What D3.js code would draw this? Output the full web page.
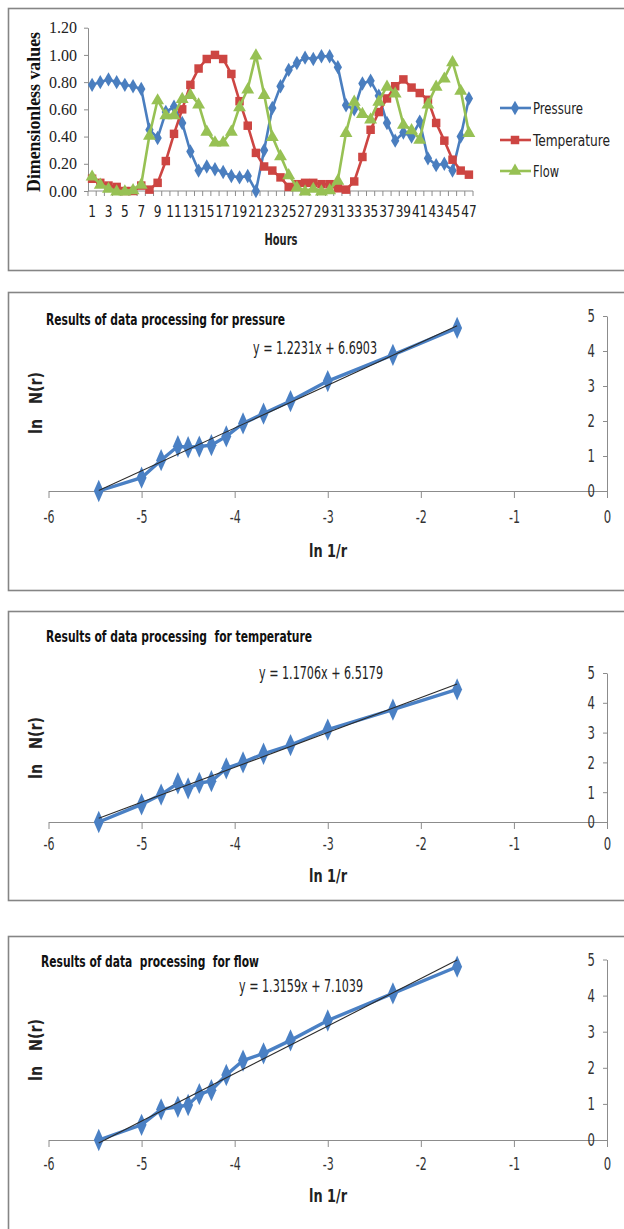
<!DOCTYPE html>
<html>
<head>
<meta charset="utf-8">
<script src="https://cdn.jsdelivr.net/npm/d3@7"></script>
<style>
  body { margin: 0; background: #fff; }
  svg { display: block; }
  .narrow { font-family: "Liberation Sans Narrow", "DejaVu Sans Condensed", sans-serif; }
</style>
</head>
<body>
<svg id="chart"></svg>
<script>
// ---- data: top chart (dimensionless values per hour) ----
const hours = [1, 2, 3, 4, 5, 6, 7, 8, 9, 10, 11, 12, 13, 14, 15, 16, 17, 18, 19, 20, 21, 22, 23, 24,
  25, 26, 27, 28, 29, 30, 31, 32, 33, 34, 35, 36, 37, 38, 39, 40, 41, 42, 43, 44, 45, 46, 47];
const pressure = [0.78, 0.80, 0.82, 0.80, 0.78, 0.77, 0.75, 0.45, 0.39, 0.58, 0.62, 0.50, 0.29, 0.15, 0.18, 0.16,
  0.14, 0.11, 0.10, 0.11, 0.00, 0.30, 0.61, 0.77, 0.89, 0.94, 0.98, 0.97, 0.99, 0.99, 0.91, 0.63,
  0.60, 0.79, 0.81, 0.70, 0.50, 0.37, 0.43, 0.40, 0.51, 0.24, 0.19, 0.20, 0.15, 0.40, 0.68];
const temperature = [0.09, 0.06, 0.04, 0.03, 0.00, 0.00, 0.04, 0.01, 0.06, 0.22, 0.42, 0.60, 0.78, 0.90, 0.97, 1.00,
  0.97, 0.86, 0.66, 0.48, 0.28, 0.18, 0.15, 0.10, 0.03, 0.05, 0.06, 0.06, 0.05, 0.05, 0.02, 0.01,
  0.07, 0.25, 0.45, 0.58, 0.68, 0.77, 0.82, 0.76, 0.72, 0.67, 0.50, 0.37, 0.23, 0.15, 0.12];
const flow = [0.11, 0.05, 0.02, 0.00, 0.00, 0.01, 0.05, 0.41, 0.67, 0.56, 0.56, 0.68, 0.71, 0.64, 0.44, 0.36,
  0.36, 0.44, 0.62, 0.75, 1.00, 0.71, 0.40, 0.26, 0.12, 0.03, 0.00, 0.02, 0.00, 0.01, 0.08, 0.43,
  0.66, 0.57, 0.53, 0.66, 0.77, 0.72, 0.49, 0.45, 0.38, 0.64, 0.77, 0.83, 0.95, 0.74, 0.43];
const seriesNames = ["Pressure", "Temperature", "Flow"];
const yTicksTop = [0, 0.2, 0.4, 0.6, 0.8, 1.0, 1.2];

// ---- data: fractal processing panels ----
const lnInvR = [-5.46, -5.00, -4.79, -4.61, -4.50, -4.38, -4.25, -4.09, -3.91, -3.69, -3.40, -3.00, -2.30, -1.61];
const lnNPressure = [0.00, 0.38, 0.88, 1.28, 1.25, 1.27, 1.31, 1.56, 1.93, 2.21, 2.57, 3.14, 3.89, 4.66];
const lnNTemperature = [0.00, 0.59, 0.92, 1.30, 1.13, 1.31, 1.37, 1.80, 2.00, 2.29, 2.58, 3.10, 3.77, 4.45];
const lnNFlow = [0.00, 0.42, 0.85, 0.92, 0.97, 1.27, 1.38, 1.80, 2.20, 2.40, 2.76, 3.31, 4.06, 4.80];
const fitPressure = [1.2231, 6.6903];
const fitTemperature = [1.1706, 6.5179];
const fitFlow = [1.3159, 7.1039];
const xTicksLn = [-6, -5, -4, -3, -2, -1, 0];
const yTicksLn = [0, 1, 2, 3, 4, 5];

const width = 624;
const height = 1229;
const colors = ["#4a7ebf", "#cd4542", "#97c154"];
const axisColor = "#8c8c8c";
const svg = d3.select("#chart").attr("width", width).attr("height", height);

// squeeze text to a given width (the source font is a narrow one)
const fit = (sel, w) => sel.attr("textLength", w).attr("lengthAdjust", "spacingAndGlyphs");

// panel frames (right side runs off the page)
const frames = [[8.5, 8.5, 262], [8.5, 292.5, 298], [8.5, 611.5, 289], [8.5, 936.5, 300]];
frames.forEach((f) => {
  svg.append("rect")
    .attr("x", f[0]).attr("y", f[1])
    .attr("width", 640).attr("height", f[2])
    .attr("fill", "none")
    .attr("stroke", "#858585")
    .attr("stroke-width", 1.6);
});

// ---------------- top chart ----------------
const drawTop = () => {
  const g = svg.append("g");
  const x = d3.scaleBand().domain(hours).range([88, 473]);
  const y = d3.scaleLinear().domain([0, 1.2]).range([191, 27.7]);
  const cx = (d) => x(d) + x.bandwidth() / 2;

  const yAxis = d3.axisLeft(y).tickValues(yTicksTop).tickFormat(d3.format(".2f"))
    .tickSize(4).tickSizeOuter(0).tickPadding(7);
  const ya = g.append("g").attr("transform", "translate(88,0)").call(yAxis);
  ya.selectAll("text").attr("font-family", "Liberation Serif, Times New Roman, serif")
    .attr("font-size", 16).attr("fill", "#222");
  ya.selectAll("line,path").attr("stroke", axisColor);

  // x axis: line, ticks between categories, odd labels
  g.append("line").attr("x1", 88).attr("x2", 473).attr("y1", 191).attr("y2", 191)
    .attr("stroke", axisColor);
  g.selectAll(".xt").data(hours.concat(["end"])).enter().append("line")
    .attr("x1", (d) => (d === "end" ? 473 : x(d)))
    .attr("x2", (d) => (d === "end" ? 473 : x(d)))
    .attr("y1", 191).attr("y2", 196)
    .attr("stroke", axisColor);
  g.selectAll(".xl").data(hours.filter((h) => h % 2 === 1)).enter().append("text")
    .attr("class", "narrow")
    .attr("x", cx).attr("y", 217)
    .attr("text-anchor", "middle")
    .attr("font-size", 16).attr("fill", "#222")
    .attr("textLength", (d) => String(d).length * 7.7)
    .attr("lengthAdjust", "spacingAndGlyphs")
    .text((d) => d);

  g.append("text").attr("x", 281).attr("y", 245)
    .attr("text-anchor", "middle").attr("class", "narrow")
    .attr("font-weight", "bold").attr("font-size", 15.5).attr("fill", "#222")
    .call(fit, 33)
    .text("Hours");
  g.append("text").attr("transform", "translate(40,112) rotate(-90)")
    .attr("text-anchor", "middle")
    .attr("font-family", "Liberation Serif, Times New Roman, serif")
    .attr("font-weight", "bold").attr("font-size", 18).attr("fill", "#111")
    .call(fit, 160)
    .text("Dimensionless values");

  const allSeries = [pressure, temperature, flow];
  const symbols = [d3.symbolDiamond, d3.symbolSquare, d3.symbolTriangle];
  const sizes = [60, 72, 72];
  const line = d3.line().x((d, i) => cx(hours[i])).y((d) => y(d));

  allSeries.forEach((vals, s) => {
    g.append("path").datum(vals).attr("d", line)
      .attr("fill", "none").attr("stroke", colors[s]).attr("stroke-width", 2.6);
    g.selectAll(".m" + s).data(vals).enter().append("path")
      .attr("transform", (d, i) => "translate(" + cx(hours[i]) + "," + (y(d) + (s === 2 ? 0.8 : 0)) + ")")
      .attr("d", d3.symbol(symbols[s], sizes[s]))
      .attr("fill", colors[s]);
  });

  // legend
  const legendY = [108, 140, 171];
  const legendW = [50, 77, 26];
  seriesNames.forEach((name, s) => {
    g.append("line").attr("x1", 500).attr("x2", 531)
      .attr("y1", legendY[s]).attr("y2", legendY[s])
      .attr("stroke", colors[s]).attr("stroke-width", 2.6);
    g.append("path").attr("transform", "translate(515," + legendY[s] + ")")
      .attr("d", d3.symbol(symbols[s], sizes[s])).attr("fill", colors[s]);
    g.append("text").attr("class", "narrow").attr("x", 533).attr("y", legendY[s] + 5.5)
      .attr("font-size", 16).attr("fill", "#222")
      .call(fit, legendW[s])
      .text(name);
  });
};

// ---------------- fractal panels ----------------
const drawFractal = (cfg) => {
  const g = svg.append("g");
  const x = d3.scaleLinear().domain([-6, 0]).range([48.5, 607]);
  const y = d3.scaleLinear().domain([0, 5]).range([cfg.y0, cfg.y5]);

  const xAxis = d3.axisBottom(x).tickValues(xTicksLn).tickFormat((d) => String(d))
    .tickSize(7).tickSizeOuter(0).tickPadding(cfg.xPad);
  const xa = g.append("g").attr("transform", "translate(0," + cfg.y0 + ")").call(xAxis);
  const yAxis = d3.axisLeft(y).tickValues(yTicksLn).tickFormat((d) => String(d))
    .tickSize(4).tickSizeOuter(0).tickPadding(8);
  const ya = g.append("g").attr("transform", "translate(" + x(0) + ",0)").call(yAxis);
  [xa, ya].forEach((a) => {
    a.selectAll("line,path").attr("stroke", axisColor);
    a.selectAll("text").attr("class", "narrow").attr("font-size", 17.5).attr("fill", "#333")
      .attr("textLength", (d) => (d < 0 ? 11 : 7.4))
      .attr("lengthAdjust", "spacingAndGlyphs");
  });
  ya.selectAll("text").attr("dy", "0.34em");

  // data line and markers
  const line = d3.line().x((d, i) => x(lnInvR[i])).y((d) => y(d));
  g.append("path").datum(cfg.values).attr("d", line)
    .attr("fill", "none").attr("stroke", "#4a80c4").attr("stroke-width", 3.4);
  g.selectAll(".pt").data(cfg.values).enter().append("path")
    .attr("transform", (d, i) => "translate(" + x(lnInvR[i]) + "," + y(d) + ") scale(1,1.3)")
    .attr("d", d3.symbol(d3.symbolDiamond, 85))
    .attr("fill", "#4a80c4");

  // linear trendline from the printed equation
  const xs = [lnInvR[0], lnInvR[lnInvR.length - 1]];
  g.append("line")
    .attr("x1", x(xs[0])).attr("y1", y(cfg.fit[0] * xs[0] + cfg.fit[1]))
    .attr("x2", x(xs[1])).attr("y2", y(cfg.fit[0] * xs[1] + cfg.fit[1]))
    .attr("stroke", "#2b2b2b").attr("stroke-width", 1.1);

  g.append("text").attr("class", "narrow").attr("x", cfg.titleX).attr("y", cfg.titleY)
    .attr("font-size", 16.5).attr("font-weight", "bold").attr("fill", "#111")
    .call(fit, cfg.titleW)
    .style("white-space", "pre")
    .text(cfg.title);
  g.append("text").attr("class", "narrow").attr("x", cfg.eqX).attr("y", cfg.eqY)
    .attr("text-anchor", "middle").attr("font-size", 17).attr("fill", "#222")
    .call(fit, cfg.eqW)
    .text("y = " + cfg.fit[0].toFixed(4) + "x + " + cfg.fit[1].toFixed(4));
  g.append("text").attr("class", "narrow").attr("x", 328).attr("y", cfg.y0 + cfg.xLabelDy)
    .attr("text-anchor", "middle").attr("font-size", 17).attr("font-weight", "bold").attr("fill", "#222")
    .call(fit, 38)
    .style("white-space", "pre")
    .text("ln 1/r");
  g.append("text").attr("class", "narrow")
    .attr("transform", "translate(42," + cfg.yLabelY + ") rotate(-90)")
    .attr("text-anchor", "middle").attr("font-size", 17).attr("font-weight", "bold").attr("fill", "#222")
    .call(fit, 62)
    .style("white-space", "pre")
    .text("ln   N(r)");
};

drawTop();
drawFractal({ values: lnNPressure, fit: fitPressure, y0: 491, y5: 316, xPad: 13, xLabelDy: 66,
  title: "Results of data processing for pressure", titleX: 46, titleY: 325, titleW: 239,
  eqX: 315, eqY: 354, eqW: 124, yLabelY: 403 });
drawFractal({ values: lnNTemperature, fit: fitTemperature, y0: 822, y5: 673, xPad: 9, xLabelDy: 60,
  title: "Results of data processing  for temperature", titleX: 46, titleY: 642, titleW: 266,
  eqX: 321, eqY: 679, eqW: 124, yLabelY: 748 });
drawFractal({ values: lnNFlow, fit: fitFlow, y0: 1140, y5: 959.5, xPad: 11, xLabelDy: 62,
  title: "Results of data  processing  for flow", titleX: 41, titleY: 967, titleW: 218,
  eqX: 301, eqY: 992, eqW: 124, yLabelY: 1050 });
</script>
</body>
</html>
